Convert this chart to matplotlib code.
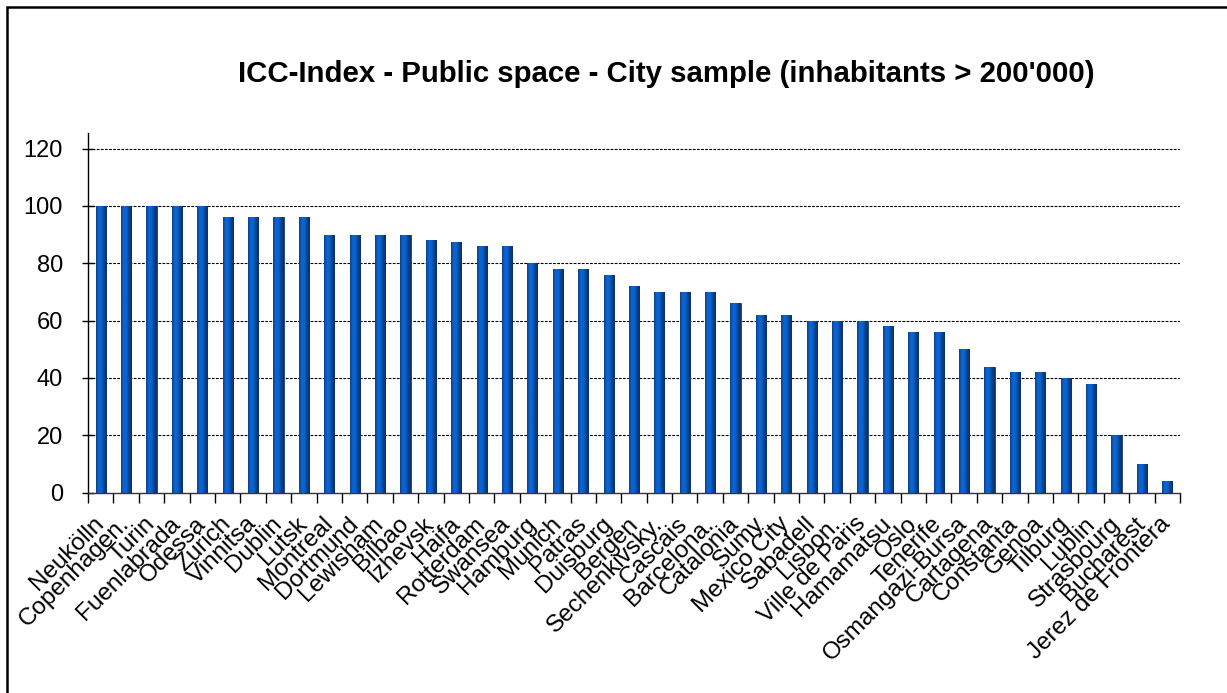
import numpy as np
import matplotlib
matplotlib.use('Agg')
import matplotlib.pyplot as plt
from matplotlib.colors import LinearSegmentedColormap
from matplotlib.patches import Rectangle

# ICC-Index public space scores, cities above 200'000 inhabitants
cities = ['Neukölln', 'Copenhagen.', 'Turin', 'Fuenlabrada', 'Odessa', 'Zurich',
          'Vinnitsa', 'Dublin', 'Lutsk', 'Montreal', 'Dortmund', 'Lewisham',
          'Bilbao', 'Izhevsk', 'Haifa', 'Rotterdam', 'Swansea', 'Hamburg',
          'Munich', 'Patras', 'Duisburg', 'Bergen', 'Sechenkivsky.', 'Cascais',
          'Barcelona.', 'Catalonia', 'Sumy', 'Mexico City', 'Sabadell', 'Lisbon.',
          'Ville de Paris', 'Hamamatsu', 'Oslo', 'Tenerife', 'Osmangazi-Bursa',
          'Cartagena', 'Constanta', 'Genoa', 'Tilburg', 'Lublin', 'Strasbourg',
          'Bucharest', 'Jerez de Frontera']
scores = [100, 100, 100, 100, 100, 96, 96, 96, 96, 90, 90, 90, 90, 88, 87.5,
          86, 86, 80, 78, 78, 76, 72, 70, 70, 70, 66, 62, 62, 60, 60, 60, 58,
          56, 56, 50, 44, 42, 42, 40, 38, 20, 10, 4]
yticks = [0, 20, 40, 60, 80, 100, 120]

plt.rcParams['font.family'] = ['Liberation Sans', 'DejaVu Sans']

fig = plt.figure(figsize=(12.27, 6.93), dpi=100)
ax = fig.add_axes([0.0717, 0.289, 0.89, 0.519])

x = np.arange(len(cities))
bars = ax.bar(x, scores, width=0.4, color='#0058C0', edgecolor='#1A3A70',
              linewidth=0.6, zorder=3)

# cylinder-like shading across each bar
shade = LinearSegmentedColormap.from_list(
    'shade', ['#0D3F86', '#0A66D4', '#0A62CC', '#08428F', '#0B2F66'])
grad = np.linspace(0, 1, 64).reshape(1, -1)
for b in bars:
    x0, y0 = b.get_x(), b.get_y()
    w, h = b.get_width(), b.get_height()
    im = ax.imshow(grad, extent=[x0, x0 + w, y0, y0 + h], cmap=shade,
                   aspect='auto', zorder=3.5, interpolation='bilinear')
    im.set_clip_path(b)

ax.set_xlim(-0.5, len(cities) - 0.5)
ax.set_ylim(0, 125.4)
ax.set_yticks(yticks)
ax.set_yticklabels([str(v) for v in yticks], fontsize=17)
for v in yticks[1:]:
    ax.axhline(v, color='black', linestyle=(0, (2.5, 1.2)), linewidth=0.8, zorder=1)

# category-boundary ticks on the x axis, labels at the bar centres
ax.set_xticks(np.arange(len(cities) + 1) - 0.5)
ax.set_xticklabels([])
ax.set_xticks(x, minor=True)
ax.set_xticklabels(cities, minor=True, rotation=45, ha='right', va='center',
                   rotation_mode='anchor', fontsize=17.5)
ax.tick_params(axis='x', which='minor', length=0, pad=20)
ax.tick_params(axis='x', which='major', length=7, width=1, direction='out')
ax.tick_params(axis='y', length=8, width=1, direction='inout', pad=14)

for s in ['top', 'right']:
    ax.spines[s].set_visible(False)
ax.spines['left'].set_linewidth(1)
ax.spines['bottom'].set_linewidth(1)
ax.spines['bottom'].set_color('#333333')

fig.text(0.543, 0.893, "ICC-Index - Public space - City sample (inhabitants > 200'000)",
         ha='center', va='center', fontsize=21.2, fontweight='bold')

# outer frame around the chart area
fig.patches.append(Rectangle((7 / 1227, -0.1), 1.2, 1 - 7.5 / 693 + 0.1,
                             transform=fig.transFigure, fill=False,
                             edgecolor='black', linewidth=1.8))

fig.savefig('out.png', dpi=100)
